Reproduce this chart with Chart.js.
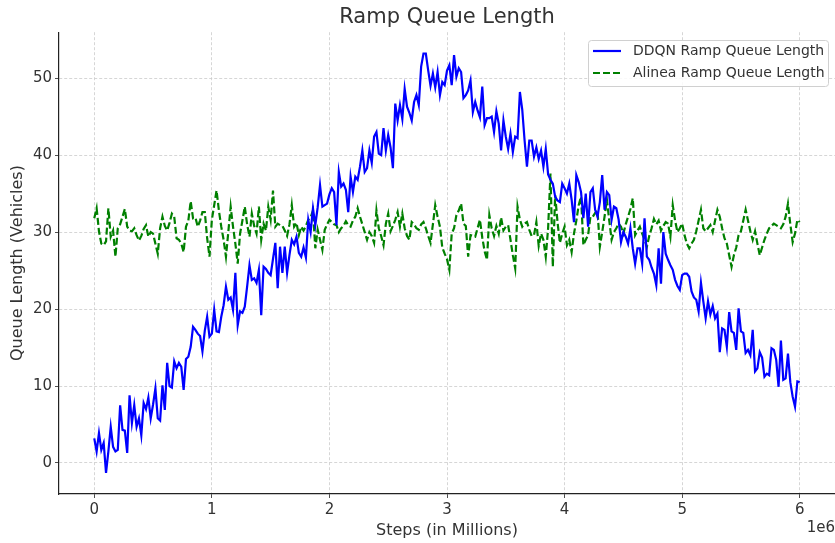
<!DOCTYPE html>
<html>
<head>
<meta charset="utf-8">
<script src="https://cdn.jsdelivr.net/npm/chart.js@4/dist/chart.umd.min.js"></script>
<style>
  html, body { margin: 0; padding: 0; background: #ffffff; }
  #wrap { width: 835px; height: 543px; position: relative; }
</style>
</head>
<body>
<div id="wrap"><canvas id="c" width="835" height="543"></canvas></div>
<script>
// ---- Data ----
const chartTitle = "Ramp Queue Length";
const xAxisTitle = "Steps (in Millions)";
const yAxisTitle = "Queue Length (Vehicles)";
const xOffsetLabel = "1e6";
const seriesNames = ["DDQN Ramp Queue Length", "Alinea Ramp Queue Length"];
const stepInterval = 20000; // one sample every 20k steps
const xTickValues = [0, 1000000, 2000000, 3000000, 4000000, 5000000, 6000000];
const yTickValues = [0, 10, 20, 30, 40, 50];

const ddqnQueue = [
3.2,1.5,3.9,1.7,2.6,-1.3,1.5,4.7,2.1,1.5,
1.7,7.5,4.3,4.2,1.3,8.8,5.2,7.5,4.7,5.8,
3.6,7.8,7.0,8.5,5.8,7.6,9.7,5.8,5.5,10.1,
6.9,13.0,10.0,9.8,13.2,12.3,13.0,12.5,9.5,13.5,
13.8,15.1,17.7,17.3,16.8,16.5,14.5,17.2,19.0,16.4,
16.8,19.9,17.1,17.0,19.0,20.5,22.9,21.2,21.5,19.9,
24.7,17.9,19.7,19.5,20.3,22.9,25.7,23.8,24.0,23.4,
25.1,19.2,25.5,25.2,24.7,24.4,26.5,28.6,22.7,28.1,
24.7,28.1,24.7,27.0,29.0,28.4,29.4,27.3,26.8,28.0,
26.7,31.6,30.0,33.1,30.9,33.2,36.1,33.3,33.5,33.7,
34.9,35.7,35.2,30.9,37.8,35.9,36.3,35.5,32.6,37.2,
35.2,37.2,36.8,38.5,40.6,37.8,38.3,40.6,39.0,42.4,
43.0,40.2,40.0,43.5,40.6,42.6,41.0,38.3,46.7,44.5,
46.5,44.7,48.6,46.3,45.5,44.5,46.9,47.8,46.5,51.5,
53.2,53.2,51.0,49.0,50.6,48.8,50.8,47.8,49.5,49.1,
51.0,51.7,49.1,53.0,50.2,51.3,50.8,47.4,47.8,48.4,
49.7,45.6,46.9,45.8,44.9,48.9,43.9,44.8,44.8,45.0,
43.0,45.7,44.1,40.6,44.5,42.4,40.8,42.8,40.4,42.4,
42.2,48.2,45.9,41.9,38.5,41.9,41.9,39.8,41.0,39.5,
40.6,38.5,40.8,37.5,36.8,36.3,34.6,34.1,33.9,36.3,
35.7,35.0,36.3,34.2,31.3,37.4,36.5,35.2,31.8,35.0,
30.7,35.2,35.7,32.9,32.0,33.9,37.4,32.9,35.2,34.8,
31.6,33.3,33.1,31.6,28.7,30.0,29.4,28.5,30.5,27.9,
25.9,27.9,27.9,25.9,31.8,26.8,26.4,25.4,24.6,23.1,
27.9,23.3,30.0,27.2,26.4,25.7,25.1,23.8,23.0,22.5,
24.4,24.6,24.6,24.2,22.3,21.5,21.2,19.7,23.4,21.0,
18.8,21.0,19.3,20.4,18.8,19.4,14.4,17.5,17.3,15.1,
19.6,17.1,16.9,14.7,20.1,17.1,16.9,14.3,14.7,14.0,
17.3,11.9,12.3,14.4,13.7,11.2,11.6,11.4,14.9,14.7,
13.4,9.9,15.9,10.8,11.0,14.2,10.5,8.6,7.3,10.6,
10.5
];

const alineaQueue = [
31.8,33.1,30.1,28.5,28.3,28.8,33.1,29.4,30.2,26.8,
30.5,31.0,32.0,33.0,30.7,30.2,30.1,30.5,29.6,28.9,
29.5,30.4,30.9,29.4,30.0,29.8,28.5,27.2,30.5,32.0,
30.8,30.2,31.2,32.4,32.0,29.2,29.0,28.5,27.4,30.7,
31.5,34.0,31.8,31.9,30.7,31.5,32.6,32.6,29.2,26.8,
31.6,33.5,35.4,32.8,30.7,29.0,26.8,30.0,33.3,30.7,
28.5,25.9,29.8,31.5,33.3,31.0,29.4,32.4,30.8,29.8,
33.3,29.0,31.1,30.2,33.3,31.6,35.4,30.7,31.1,30.9,
30.8,30.2,29.5,31.0,33.5,30.7,31.2,29.6,30.7,30.2,
30.8,31.6,31.9,32.8,27.9,30.3,29.0,27.7,30.3,31.0,
31.6,31.3,31.0,30.9,30.0,30.5,30.8,31.4,30.9,30.7,
31.5,32.0,33.1,32.0,31.0,30.0,29.0,30.0,29.5,28.6,
32.8,30.5,29.5,28.3,31.1,32.4,30.1,30.8,31.6,32.6,
30.7,32.4,30.5,29.5,29.0,31.3,31.0,30.5,30.3,31.0,
31.3,30.5,29.5,28.6,31.0,33.5,32.0,30.7,28.0,27.2,
26.5,25.1,29.8,30.5,32.2,32.8,33.7,31.1,30.8,26.8,
29.6,29.5,29.4,30.5,31.6,29.3,27.5,26.4,32.2,30.5,
29.5,30.8,29.8,31.9,30.2,30.7,30.9,29.0,27.0,25.3,
33.3,31.6,30.7,31.1,31.3,30.3,29.5,29.6,31.3,28.2,
29.8,29.0,26.8,30.5,37.6,25.5,34.8,31.3,28.6,29.8,
30.7,28.3,29.0,27.4,29.8,31.5,33.5,34.6,28.3,29.0,
29.6,32.0,32.0,32.5,32.8,28.1,30.0,32.0,34.2,31.5,
29.0,30.0,30.5,31.1,30.7,29.8,31.0,32.0,33.0,34.4,
29.6,30.2,30.7,29.8,29.0,28.1,29.5,30.5,31.7,31.0,
31.5,30.2,30.8,31.3,31.1,29.4,33.5,31.5,30.0,30.5,
31.1,29.6,28.5,27.9,28.5,29.0,30.1,31.5,32.9,30.5,
30.1,30.5,30.9,30.0,31.5,32.9,32.0,30.5,29.2,28.5,
27.0,25.5,27.0,28.0,29.6,30.1,31.5,32.9,31.5,30.1,
29.0,30.1,28.5,27.0,28.0,29.0,29.8,30.5,30.8,31.1,
30.9,30.7,30.5,31.0,32.0,33.7,31.0,28.7,29.8,31.6,
31.3
];

const steps = ddqnQueue.map((_, i) => i * stepInterval);

const FONT = "'DejaVu Sans', sans-serif";
const TEXT = '#333333';

const legendPlugin = {
  id: 'boxLegend',
  afterDraw(chart) {
    const ctx = chart.ctx;
    const x0 = 588, y0 = 40, w = 240, h = 46;
    ctx.save();
    ctx.beginPath();
    if (ctx.roundRect) ctx.roundRect(x0 + 0.5, y0 + 0.5, w, h, 3); else ctx.rect(x0 + 0.5, y0 + 0.5, w, h);
    ctx.fillStyle = 'rgba(255,255,255,0.85)';
    ctx.fill();
    ctx.strokeStyle = '#d0d0d0';
    ctx.lineWidth = 1;
    ctx.stroke();
    chart.data.datasets.forEach((ds, i) => {
      const y = 51 + i * 22;
      ctx.beginPath();
      ctx.setLineDash(ds.borderDash || []);
      ctx.strokeStyle = ds.borderColor;
      ctx.lineWidth = ds.borderWidth;
      ctx.moveTo(593, y);
      ctx.lineTo(621, y);
      ctx.stroke();
      ctx.setLineDash([]);
      ctx.fillStyle = TEXT;
      ctx.font = "14px " + FONT;
      ctx.textBaseline = 'middle';
      ctx.textAlign = 'left';
      ctx.fillText(ds.label, 633, y);
    });
    // scientific offset label on x axis
    ctx.font = "15px " + FONT;
    ctx.fillStyle = TEXT;
    ctx.textAlign = 'right';
    ctx.textBaseline = 'middle';
    ctx.fillText(xOffsetLabel, 835, 528);
    ctx.restore();
  }
};

new Chart(document.getElementById('c'), {
  type: 'line',
  data: {
    datasets: [
      {
        label: seriesNames[0],
        data: steps.map((s, i) => ({ x: s, y: ddqnQueue[i] })),
        borderColor: '#0000ff',
        borderWidth: 2.2,
        pointRadius: 0,
        tension: 0,
        fill: false
      },
      {
        label: seriesNames[1],
        data: steps.map((s, i) => ({ x: s, y: alineaQueue[i] })),
        borderColor: '#008000',
        borderWidth: 2.2,
        borderDash: [7, 3],
        pointRadius: 0,
        tension: 0,
        fill: false
      }
    ]
  },
  options: {
    responsive: false,
    animation: false,
    devicePixelRatio: 1,
    layout: { padding: { left: 0, right: 0, top: 0, bottom: 0 } },
    plugins: {
      legend: { display: false },
      tooltip: { enabled: false },
      title: {
        display: true,
        text: chartTitle,
        fullSize: false,
        color: TEXT,
        font: { family: FONT, size: 21, weight: 'normal', lineHeight: 1.2 },
        padding: { top: 5, bottom: 2 }
      }
    },
    scales: {
      x: {
        type: 'linear',
        min: -300000,
        max: 6300000,
        afterBuildTicks: (scale) => { scale.ticks = xTickValues.map(v => ({ value: v })); },
        afterFit: (scale) => { scale.height = 49; },
        ticks: {
          color: TEXT,
          font: { family: FONT, size: 15 },
          padding: 3,
          maxRotation: 0,
          autoSkip: false,
          callback: (v) => String(v / 1000000)
        },
        grid: {
          color: '#cccccc',
          lineWidth: 0.8,
          drawTicks: true,
          tickLength: 4,
          tickColor: '#222222',
          tickBorderDash: []
        },
        border: { display: true, color: '#222222', width: 1.2, dash: [3, 2] },
        title: {
          display: true,
          text: xAxisTitle,
          color: TEXT,
          font: { family: FONT, size: 16, lineHeight: 1.2 },
          padding: { top: 0, bottom: 3 }
        }
      },
      y: {
        type: 'linear',
        min: -4.03,
        max: 55.97,
        afterBuildTicks: (scale) => { scale.ticks = yTickValues.map(v => ({ value: v })); },
        afterFit: (scale) => { scale.width = 59; },
        ticks: {
          color: TEXT,
          font: { family: FONT, size: 15 },
          padding: 3,
          autoSkip: false
        },
        grid: {
          color: '#cccccc',
          lineWidth: 0.8,
          drawTicks: true,
          tickLength: 4,
          tickColor: '#222222',
          tickBorderDash: []
        },
        border: { display: true, color: '#222222', width: 1.2, dash: [3, 2] },
        title: {
          display: true,
          text: yAxisTitle,
          color: TEXT,
          font: { family: FONT, size: 16, lineHeight: 1.2 },
          padding: { top: 8, bottom: 0 }
        }
      }
    }
  },
  plugins: [legendPlugin]
});
</script>
</body>
</html>
